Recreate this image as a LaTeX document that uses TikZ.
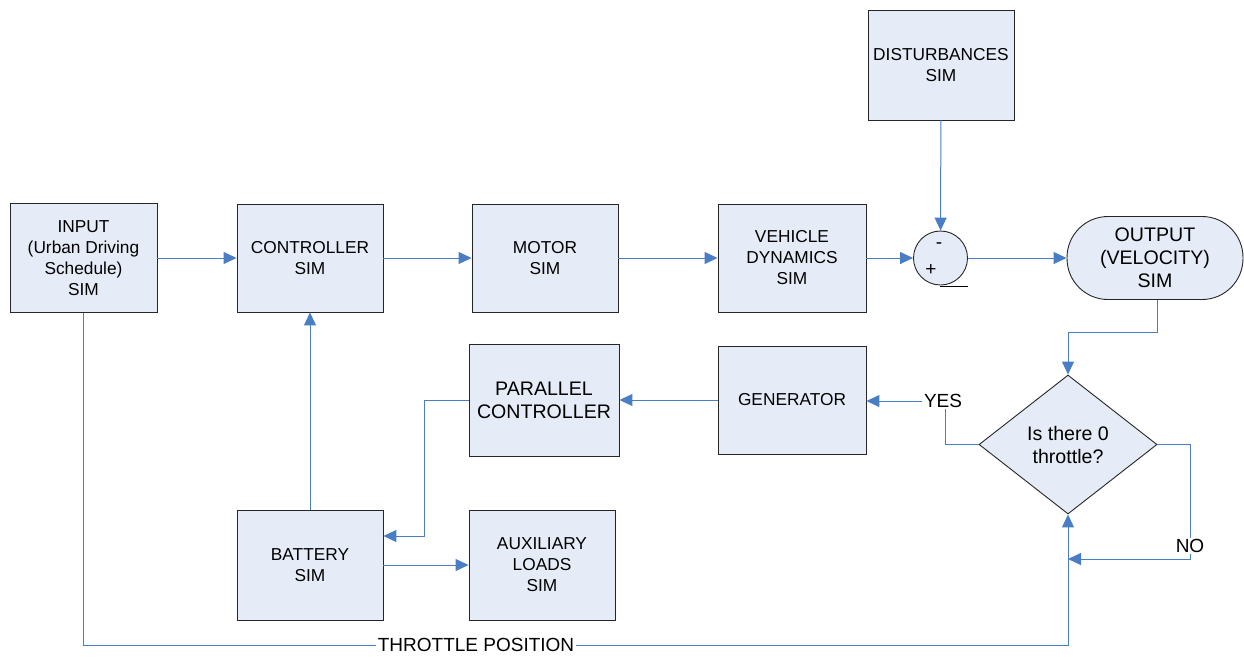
\documentclass[tikz,border=0pt]{standalone}
\usepackage{fontspec}
\setmainfont{Liberation Sans}
\usetikzlibrary{arrows.meta,shapes.geometric}
\definecolor{boxfill}{HTML}{E6ECF7}
\definecolor{linkblue}{HTML}{4A7EC4}
\tikzset{
  blk/.style={draw=black!85, line width=0.9pt, fill=boxfill, align=center, inner sep=0pt,
    font=\fontsize{17.3}{21}\selectfont},
  bigtxt/.style={font=\fontsize{19.6}{23}\selectfont},
  conn/.style={draw=linkblue, line width=1pt},
  arr/.style={conn, -{Triangle[length=13pt,width=12pt]}},
  lbl/.style={inner sep=1.5pt, font=\fontsize{19}{22}\selectfont},
  sign/.style={inner sep=0pt, font=\fontsize{19}{19}\selectfont}
}
\begin{document}
\begin{tikzpicture}[x=1pt,y=-1pt]
\useasboundingbox (0,0) rectangle (1244,656);
% blocks
\node[blk, minimum width=147pt, minimum height=109pt] (input) at (83.5,258) {INPUT\\(Urban Driving\\Schedule)\\SIM};
\node[blk, minimum width=146pt, minimum height=108pt] (ctrl) at (310,258) {CONTROLLER\\SIM};
\node[blk, minimum width=146pt, minimum height=108pt] (motor) at (545,258) {MOTOR\\SIM};
\node[blk, minimum width=148pt, minimum height=108pt] (veh) at (792,258) {VEHICLE\\DYNAMICS\\SIM};
\node[blk, minimum width=146pt, minimum height=110pt] (dist) at (941,65) {DISTURBANCES\\SIM};
\node[blk, circle, minimum size=54pt] (sum) at (940.5,258) {};
\node[sign] (minus) at (939,246) {-};
\node[sign] (plus) at (931,270) {+};
\coordinate (ul1) at (940,286);
\coordinate (ul2) at (968,286);
\draw[black, line width=0.9pt] (ul1) -- (ul2);
\node[blk, rounded corners=41pt, minimum width=176pt, minimum height=83pt, bigtxt] (out) at (1155,258) {OUTPUT\\(VELOCITY)\\SIM};
\node[blk, diamond, aspect=1.28, minimum width=178pt, minimum height=139pt, bigtxt] (dia) at (1068,444.5) {Is there 0\\throttle?};
\node[blk, minimum width=148pt, minimum height=108pt] (gen) at (792,400) {GENERATOR};
\node[blk, minimum width=150pt, minimum height=112pt, bigtxt] (par) at (544,400) {PARALLEL\\CONTROLLER};
\node[blk, minimum width=146pt, minimum height=110pt] (bat) at (310,565) {BATTERY\\SIM};
\node[blk, minimum width=146pt, minimum height=110pt] (aux) at (542,565) {AUXILIARY\\LOADS\\SIM};
% labels
\node[lbl] (yes) at (943,401) {YES};
\node[lbl] (no) at (1190,546) {NO};
\node[lbl] (thr) at (476,645) {THROTTLE POSITION};
\coordinate (nj) at (1068,559);
% connectors
\draw[arr] (input) -- (ctrl);
\draw[arr] (ctrl) -- (motor);
\draw[arr] (motor) -- (veh);
\draw[arr] (veh) -- (sum);
\draw[arr] (sum) -- (out);
\draw[arr] (dist) -- (sum);
\draw[arr] (bat) -- (ctrl);
\draw[arr] (bat) -- (aux);
\draw[arr] ([xshift=2pt]out.south) -- ++(0,33) -| (dia.north);
\draw[conn] (dia.west) -| ([xshift=2pt]yes.south);
\draw[arr] (yes.west) -- (gen.east |- yes.west);
\draw[arr] (gen) -- (par);
\draw[arr] (par.west) -- ++(-44,0) |- (bat.east |- 0,536);
\draw[conn] (dia.east) -| (no.north);
\draw[arr] (no.south) |- (nj);
\draw[conn] (input.south) |- (thr.west);
\draw[arr] (thr.east) -| (dia.south);
\end{tikzpicture}
\end{document}
